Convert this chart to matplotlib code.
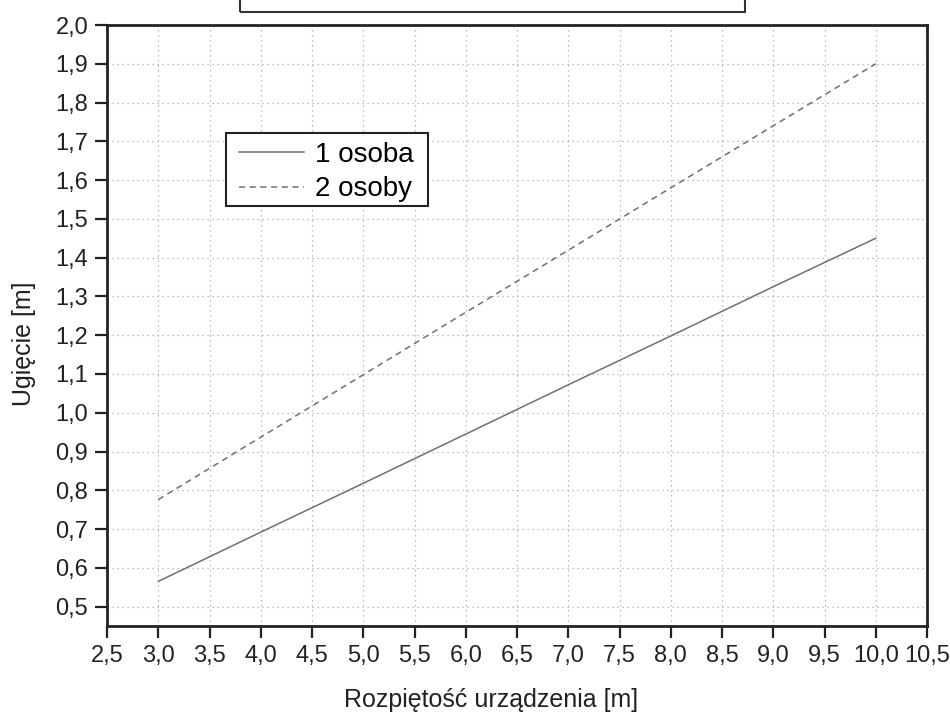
import matplotlib
matplotlib.use("Agg")
import matplotlib.pyplot as plt
from matplotlib.patches import Rectangle
import numpy as np

plt.rcParams['font.family'] = ['Liberation Sans', 'DejaVu Sans']

span = [3, 4, 5, 6, 7, 8, 9, 10]
one_person = [0.565, 0.692, 0.818, 0.945, 1.072, 1.198, 1.325, 1.450]
two_persons = [0.776, 0.937, 1.098, 1.259, 1.419, 1.580, 1.740, 1.900]
labels = ["1 osoba", "2 osoby"]
xticks = np.arange(2.5, 10.51, 0.5)
yticks = np.arange(0.5, 2.01, 0.1)

W, H = 950, 716
fig = plt.figure(figsize=(W/100, H/100), dpi=100)
ax = fig.add_axes([107/W, 90/H, 820/W, 601/H])

ax.plot(span, one_person, color='#707070', lw=1.1, ls='-', label=labels[0])
ax.plot(span, two_persons, color='#707070', lw=1.1, ls=(0, (4, 3)), label=labels[1])

ax.set_xlim(2.5, 10.5)
ax.set_ylim(0.45, 2.0)
ax.set_xticks(xticks)
ax.set_yticks(yticks)
ax.set_xticklabels([f"{v:.1f}".replace('.', ',') for v in xticks])
ax.set_yticklabels([f"{v:.1f}".replace('.', ',') for v in yticks])

for x in xticks[1:-1]:
    ax.axvline(x, color='#aaaaaa', lw=0.9, ls=(0, (1, 3)), zorder=0)
for y in yticks[:-1]:
    ax.axhline(y, color='#aaaaaa', lw=0.9, ls=(0, (1, 3)), zorder=0)

for s in ax.spines.values():
    s.set_linewidth(2.0)
    s.set_color('#222222')
ax.tick_params(direction='out', length=8.5, width=1.6, labelsize=17,
               colors='#222222', pad=5)

ax.set_xlabel("Rozpiętość urządzenia [m]", fontsize=18, color='#222222')
ax.set_ylabel("Ugięcie [m]", fontsize=18, color='#222222')
ax.xaxis.set_label_coords((491-107)/820, (626-688)/601)
ax.yaxis.set_label_coords((36-107)/820, (626-344)/601)

# legend frame drawn separately so that horizontal/vertical padding match
ax.add_patch(Rectangle((226/W, 1-206/H), (428-226)/W, (206-133)/H,
                       transform=fig.transFigure, facecolor='white',
                       edgecolor='#222222', lw=1.5, zorder=4, clip_on=False))
leg = ax.legend(loc='upper left', bbox_to_anchor=(239/W, 1-142/H),
                bbox_transform=fig.transFigure,
                fontsize=20, frameon=False,
                handlelength=2.35, handletextpad=0.4, borderpad=0,
                borderaxespad=0, labelspacing=0.3)
leg.set_zorder(5)

# partially visible box at the top (cut off)
ax.add_patch(Rectangle(((240-107)/820, (626-12)/601), (745-240)/820, 0.2,
                       transform=ax.transAxes, fill=False, lw=1.5,
                       edgecolor='#333333', clip_on=False))

fig.savefig("out.png", dpi=100)
